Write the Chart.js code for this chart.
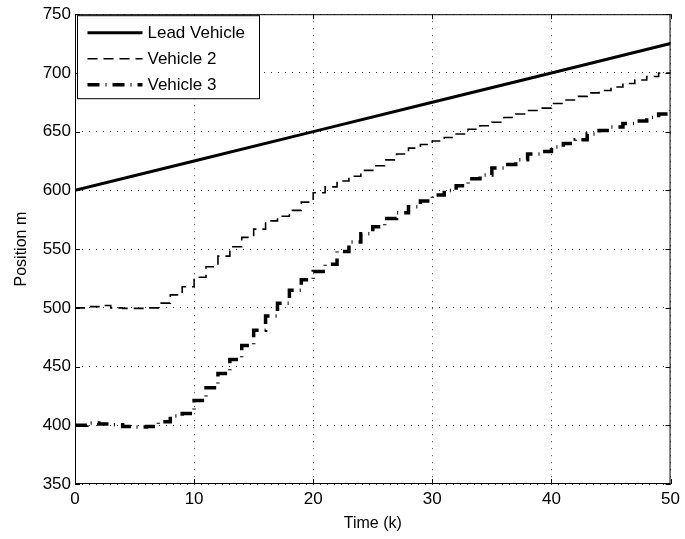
<!DOCTYPE html>
<html>
<head>
<meta charset="utf-8">
<title>Vehicle positions</title>
<script src="https://cdn.jsdelivr.net/npm/chart.js@4.4.1/dist/chart.umd.min.js"></script>
<style>
  html, body { margin: 0; padding: 0; background: #fff; }
  #wrap { width: 685px; height: 539px; }
</style>
</head>
<body>
<div id="wrap"><canvas id="positionChart" width="685" height="539"></canvas></div>
<script>
// time steps k = 0..50
const steps = [
  0, 1, 2, 3, 4, 5, 6, 7, 8, 9, 10, 11, 12, 13, 14, 15, 16, 17, 18, 19, 20,
  21, 22, 23, 24, 25, 26, 27, 28, 29, 30, 31, 32, 33, 34, 35, 36, 37, 38, 39, 40,
  41, 42, 43, 44, 45, 46, 47, 48, 49, 50
];

// lead vehicle moves at constant speed
const leadSteps = [0, 10, 20, 30, 40, 50];
const leadPositions = [600, 625, 650, 675, 700, 725];

const vehicle2Positions = [
  500, 501, 502, 500, 499.5, 499.5, 500, 504, 511, 518,
  526, 535, 544, 552, 560, 567, 574, 578, 583, 590,
  598, 603, 608, 612, 617, 621, 626, 631, 636, 639,
  642, 645, 648, 652, 655, 658, 662, 665, 668, 670,
  674, 677, 680, 683, 685, 688, 691, 694, 697, 700,
  700
];

const vehicle3Positions = [
  400, 402, 401, 400.5, 399, 398.5, 399, 403, 408, 410,
  421, 432, 444, 456, 468, 481, 493, 504, 515, 524,
  531, 537, 548, 556, 563, 569, 576, 581, 586, 591,
  596, 600, 604, 610, 613, 619, 622, 626, 631, 633,
  637, 640, 643, 648, 651, 654, 657, 659, 662, 665,
  668
];

const xTicks = [0, 10, 20, 30, 40, 50];
const yTicks = [350, 400, 450, 500, 550, 600, 650, 700, 750];

const FONT = "'Liberation Sans', Arial, Helvetica, sans-serif";
const TICK_LEN = 5;

const toPoints = (xs, ys) => xs.map((x, i) => ({ x, y: ys[i] }));

// box around the axes, inward ticks and the legend (MATLAB look)
const axesFrame = {
  id: "axesFrame",
  afterDatasetsDraw(chart) {
    const { ctx, chartArea: a, scales: { x, y } } = chart;
    ctx.save();
    ctx.setLineDash([]);
    ctx.strokeStyle = "#000";
    ctx.lineWidth = 1;
    ctx.strokeRect(a.left + 0.5, a.top + 0.5, a.right - a.left - 1, a.bottom - a.top - 1);

    ctx.beginPath();
    xTicks.forEach(v => {
      const px = Math.round(x.getPixelForValue(v)) + 0.5;
      ctx.moveTo(px, a.bottom); ctx.lineTo(px, a.bottom - TICK_LEN);
      ctx.moveTo(px, a.top); ctx.lineTo(px, a.top + TICK_LEN);
    });
    yTicks.forEach(v => {
      const py = Math.round(y.getPixelForValue(v)) + 0.5;
      ctx.moveTo(a.left, py); ctx.lineTo(a.left + TICK_LEN, py);
      ctx.moveTo(a.right, py); ctx.lineTo(a.right - TICK_LEN, py);
    });
    ctx.stroke();

    // legend box in the upper left corner
    const box = { left: a.left + 2.5, top: a.top + 1.5, width: 182, height: 83 };
    ctx.fillStyle = "#fff";
    ctx.fillRect(box.left, box.top, box.width, box.height);
    ctx.strokeRect(box.left, box.top, box.width, box.height);

    ctx.font = "17px " + FONT;
    ctx.textBaseline = "middle";
    ctx.textAlign = "left";
    chart.data.datasets.forEach((ds, i) => {
      const cy = box.top + 17 + i * 26;
      ctx.beginPath();
      ctx.lineWidth = ds.borderWidth;
      ctx.setLineDash(ds.borderDash || []);
      ctx.moveTo(box.left + 10, cy);
      ctx.lineTo(box.left + 65, cy);
      ctx.stroke();
      ctx.setLineDash([]);
      ctx.fillStyle = "#000";
      ctx.fillText(ds.label, box.left + 70, cy + 1);
    });
    ctx.restore();
  }
};

const ctx = document.getElementById("positionChart").getContext("2d");

new Chart(ctx, {
  type: "line",
  data: {
    datasets: [
      {
        label: "Lead Vehicle",
        data: toPoints(leadSteps, leadPositions),
        borderColor: "#000",
        borderWidth: 3,
        pointRadius: 0
      },
      {
        label: "Vehicle 2",
        data: toPoints(steps, vehicle2Positions),
        borderColor: "#000",
        borderWidth: 1.6,
        borderDash: [10, 6],
        stepped: "before",
        pointRadius: 0
      },
      {
        label: "Vehicle 3",
        data: toPoints(steps, vehicle3Positions),
        borderColor: "#000",
        borderWidth: 3.5,
        borderDash: [12, 6, 1, 6],
        stepped: "before",
        pointRadius: 0
      }
    ]
  },
  options: {
    responsive: false,
    animation: false,
    layout: { padding: { left: 0, top: 14, right: 13, bottom: 0 } },
    plugins: {
      legend: { display: false },
      tooltip: { enabled: false }
    },
    scales: {
      x: {
        type: "linear",
        min: 0,
        max: 50,
        afterBuildTicks: s => { s.ticks = xTicks.map(v => ({ value: v })); },
        afterFit: s => { s.height = 55; },
        ticks: { color: "#000", font: { family: FONT, size: 17 }, padding: 5, maxRotation: 0 },
        grid: { color: "rgba(0,0,0,0.75)", lineWidth: 1, drawTicks: false },
        border: { display: false, dash: [1, 6] },
        title: {
          display: true,
          text: "Time (k)",
          color: "#000",
          font: { family: FONT, size: 16 },
          padding: { top: 0, bottom: 6 }
        }
      },
      y: {
        min: 350,
        max: 750,
        afterBuildTicks: s => { s.ticks = yTicks.map(v => ({ value: v })); },
        afterFit: s => { s.width = 75; },
        ticks: { color: "#000", font: { family: FONT, size: 17 }, padding: 4 },
        grid: { color: "rgba(0,0,0,0.75)", lineWidth: 1, drawTicks: false },
        border: { display: false, dash: [1, 6] },
        title: {
          display: true,
          text: "Position m",
          color: "#000",
          font: { family: FONT, size: 16 },
          padding: { top: 12, bottom: 0 }
        }
      }
    }
  },
  plugins: [axesFrame]
});
</script>
</body>
</html>
